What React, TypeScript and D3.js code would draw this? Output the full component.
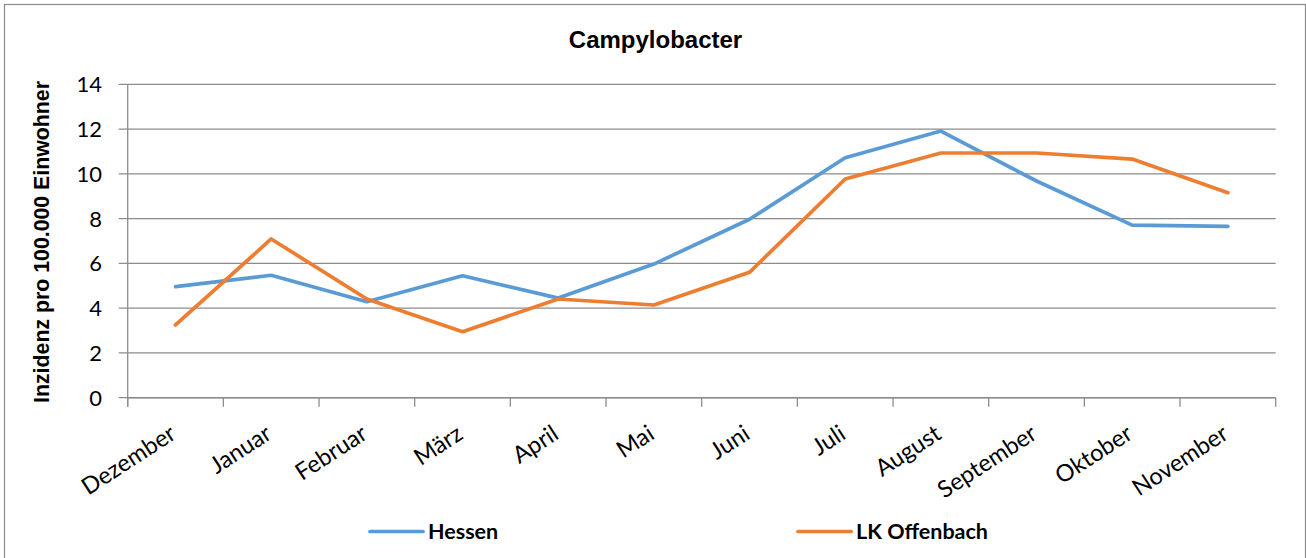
import React from "react"
import * as d3 from "d3"

const months = [
  "Dezember", "Januar", "Februar", "März", "April", "Mai",
  "Juni", "Juli", "August", "September", "Oktober", "November",
]
const hessen = [4.96, 5.47, 4.29, 5.45, 4.45, 5.97, 7.97, 10.72, 11.91, 9.68, 7.71, 7.65]
const offenbach = [3.25, 7.09, 4.41, 2.95, 4.41, 4.14, 5.6, 9.77, 10.93, 10.93, 10.66, 9.16]
const yTicks = [0, 2, 4, 6, 8, 10, 12, 14]

const series = [
  { name: "Hessen", values: hessen, color: "#5B9BD5", legendX: 370 },
  { name: "LK Offenbach", values: offenbach, color: "#ED7D31", legendX: 798 },
]

const W = 1306
const H = 558
const left = 127.7
const right = 1275.7
const top = 84.3
const bottom = 397.7

const gridColor = "#8c8c8c"
const calibri = "Lato, Carlito, Calibri, sans-serif"
const arial = "'Liberation Sans', Arial, sans-serif"

const App: React.FC = () => {
  const x = d3.scaleBand<string>().domain(months).range([left, right])
  const y = d3.scaleLinear().domain([0, 14]).range([bottom, top])
  const cx = (m: string) => (x(m) ?? 0) + x.bandwidth() / 2

  const line = d3.line<number>()
    .x((_, i) => cx(months[i]))
    .y(d => y(d))

  const tickXs = months.map(m => x(m) ?? 0).concat([right])

  return (
    <svg width={W} height={H} style={{ position: "absolute", left: 0, top: 0 }}>
      <rect x={4.5} y={4.5} width={W - 5} height={H} fill="#fff" stroke={gridColor} strokeWidth={1.2} />

      <text x={655.5} y={48} textAnchor="middle" fontFamily={arial} fontWeight="bold" fontSize={24} fill="#000">
        Campylobacter
      </text>

      {/* grid */}
      <g>
        {yTicks.map(t => (
          <g key={t}>
            <line x1={left - 9} x2={right} y1={y(t)} y2={y(t)} stroke={gridColor} strokeWidth={1.3} />
            <text x={102} y={y(t)} dy="0.36em" textAnchor="end" fontFamily={calibri} fontSize={22} fill="#000">
              {t}
            </text>
          </g>
        ))}
      </g>

      {/* axes */}
      <line x1={left} x2={left} y1={top} y2={bottom + 9} stroke={gridColor} strokeWidth={1.3} />
      <line x1={left} x2={right} y1={bottom} y2={bottom} stroke={gridColor} strokeWidth={1.6} />
      {tickXs.map((tx, i) => (
        <line key={i} x1={tx} x2={tx} y1={bottom} y2={bottom + 9} stroke={gridColor} strokeWidth={1.3} />
      ))}

      {months.map(m => (
        <text
          key={m}
          transform={`translate(${cx(m) + 2},${bottom + 40}) rotate(-33)`}
          textAnchor="end"
          fontFamily={calibri}
          fontSize={23.5}
          fill="#000"
        >
          {m}
        </text>
      ))}

      <text
        transform={`translate(49,${(top + bottom) / 2 + 1}) rotate(-90)`}
        textAnchor="middle"
        fontFamily={arial}
        fontWeight="bold"
        fontSize={21.3}
        fill="#000"
      >
        Inzidenz pro 100.000 Einwohner
      </text>

      {/* lines */}
      {series.map(s => (
        <path
          key={s.name}
          d={line(s.values) ?? ""}
          fill="none"
          stroke={s.color}
          strokeWidth={3.7}
          strokeLinejoin="round"
          strokeLinecap="round"
        />
      ))}

      {/* legend */}
      {series.map(s => (
        <g key={s.name}>
          <line x1={s.legendX} x2={s.legendX + 53} y1={531.5} y2={531.5} stroke={s.color} strokeWidth={3.7} strokeLinecap="round" />
          <text x={s.legendX + 58} y={531.5} dy="0.36em" fontFamily={calibri} fontWeight="bold" fontSize={21.5} fill="#000">
            {s.name}
          </text>
        </g>
      ))}
    </svg>
  )
}

export default App
